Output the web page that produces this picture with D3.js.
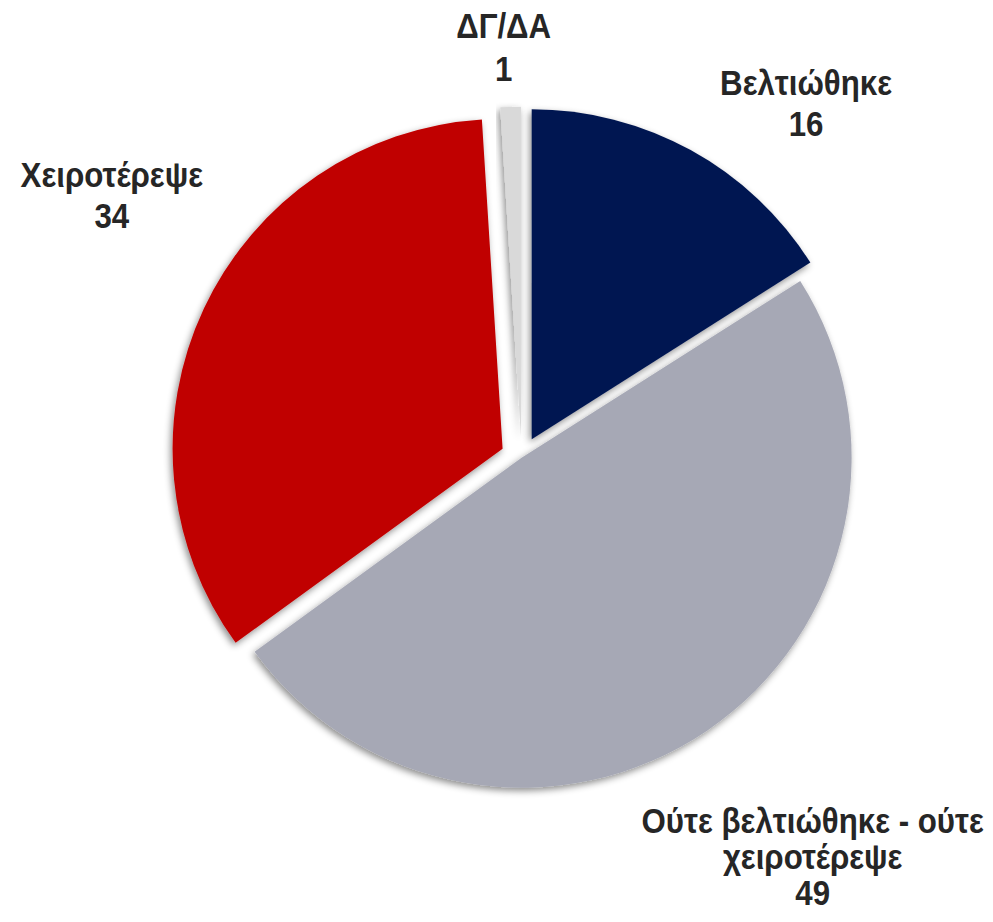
<!DOCTYPE html>
<html>
<head>
<meta charset="utf-8">
<script src="https://cdn.jsdelivr.net/npm/d3@7"></script>
<style>
  html, body { margin: 0; padding: 0; background: #fff; }
  svg { display: block; }
</style>
</head>
<body>
<svg id="chart" width="993" height="922"></svg>
<script>
// data
const categories = ["Βελτιώθηκε", "Ούτε βελτιώθηκε - ούτε χειροτέρεψε", "Χειροτέρεψε", "ΔΓ/ΔΑ"];
const values = [16, 49, 34, 1];

// styles
const colours = ["#011851", "#A6A8B5", "#C00000", "#D9D9D9"];
const explodeBy = [21, 0, 21, 21];
// label placement: turn off the slice bisector (degrees) and distance from centre
const labelTurn = [9.9, -1.9, 7.5, -0.7];
const labelDist = [455, 494, 487, 411];
const lineGap = [41, 36, 41, 43];

const cx = 521.6;
const cy = 457.7;
const radius = 330;
const fontSize = 34.5;
const wrapWidth = 360;
const fontFamily = "'Liberation Sans Narrow', 'Arial Narrow', 'Liberation Sans', Arial, sans-serif";

const svg = d3.select("#chart");

// soft shadow under the slices
const defs = svg.append("defs");
const shadow = defs.append("filter")
  .attr("id", "shadow")
  .attr("x", "-20%").attr("y", "-20%")
  .attr("width", "140%").attr("height", "140%");
shadow.append("feDropShadow")
  .attr("dx", -2)
  .attr("dy", 3)
  .attr("stdDeviation", 3.5)
  .attr("flood-color", "#000")
  .attr("flood-opacity", 0.45);

const pie = d3.pie().sort(null).value((d) => d.value);
const arc = d3.arc().innerRadius(0).outerRadius(radius);

const rows = categories.map((c, i) => ({ label: c, value: values[i], i: i }));
const arcs = pie(rows);

const g = svg.append("g").attr("transform", `translate(${cx},${cy})`);

g.selectAll("path.slice")
  .data(arcs)
  .join("path")
  .attr("class", "slice")
  .attr("d", arc)
  .attr("fill", (d) => colours[d.data.i])
  .attr("filter", "url(#shadow)")
  .attr("transform", (d) => {
    const mid = (d.startAngle + d.endAngle) / 2;
    const e = explodeBy[d.data.i];
    return `translate(${Math.sin(mid) * e},${-Math.cos(mid) * e})`;
  });

// measure a string in the label font
const probe = svg.append("text")
  .attr("font-family", fontFamily)
  .attr("font-weight", "bold")
  .attr("font-size", fontSize);
function measure(s) {
  probe.text(s);
  return probe.node().getComputedTextLength();
}

// condensed look: squeeze so "Βελτιώθηκε" comes out ~172px wide
const squeeze = Math.min(1, 172 / measure("Βελτιώθηκε"));

function wrapText(text) {
  const words = text.split(" ");
  let lines = [];
  let line = [];
  words.forEach((w) => {
    line.push(w);
    if (measure(line.join(" ")) * squeeze > wrapWidth && line.length > 1) {
      line.pop();
      lines.push(line.join(" "));
      line = [w];
    }
  });
  lines.push(line.join(" "));
  return lines;
}

arcs.forEach((d) => {
  const i = d.data.i;
  const mid = (d.startAngle + d.endAngle) / 2 + (labelTurn[i] * Math.PI) / 180;
  const x = Math.sin(mid) * labelDist[i];
  const y = -Math.cos(mid) * labelDist[i];
  const lines = wrapText(d.data.label).concat([String(d.data.value)]);
  const gap = lineGap[i];
  // block centre -> baseline of first line (cap height ~0.72em)
  const top = -((lines.length - 1) * gap) / 2 + fontSize * 0.36;

  const t = g.append("text")
    .attr("class", "label")
    .attr("font-family", fontFamily)
    .attr("font-weight", "bold")
    .attr("font-size", fontSize)
    .attr("fill", "#262626")
    .attr("text-anchor", "middle")
    .attr("transform", `translate(${x},${y}) scale(${squeeze},1)`);

  lines.forEach((ln, k) => {
    t.append("tspan")
      .attr("x", 0)
      .attr("y", top + k * gap)
      .text(ln);
  });
});

probe.remove();
</script>
</body>
</html>
